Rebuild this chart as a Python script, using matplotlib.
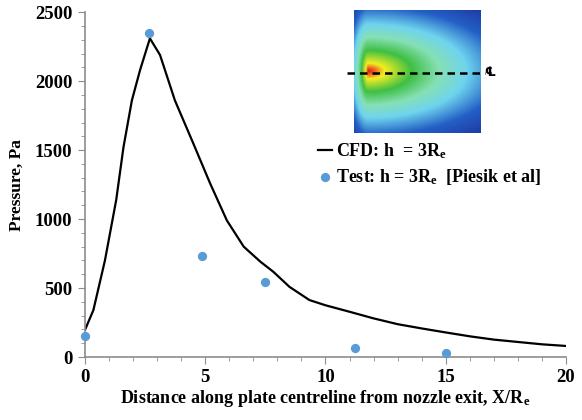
import numpy as np
import matplotlib
matplotlib.use("Agg")
import matplotlib.pyplot as plt
from matplotlib.colors import LinearSegmentedColormap
from matplotlib.lines import Line2D
from matplotlib.ticker import MultipleLocator

plt.rcParams['font.family'] = ['Liberation Serif', 'DejaVu Sans']
plt.rcParams['font.weight'] = 'bold'
plt.rcParams['mathtext.fontset'] = 'custom'
plt.rcParams['mathtext.rm'] = 'Liberation Serif:bold'
plt.rcParams['mathtext.it'] = 'Liberation Serif:bold'
plt.rcParams['mathtext.bf'] = 'Liberation Serif:bold'

# CFD curve
cfd_x = [0, 0.35, 0.83, 1.3, 1.6, 1.95, 2.29, 2.7, 3.12, 3.74, 4.5, 5.2, 5.9, 6.6, 7.3, 7.83, 8.5, 9.33, 10, 11, 12, 13, 14, 15, 16, 17, 18, 19, 20]
cfd_y = [196, 340, 700, 1140, 1520, 1860, 2080, 2310, 2190, 1860, 1550, 1260, 990, 800, 690, 618, 509, 413, 375, 328, 280, 238, 207, 178, 150, 126, 109, 92, 80]
# Test data
test_x = [0.0, 2.67, 4.86, 7.5, 11.24, 15.0]
test_y = [150, 2350, 732, 546, 68, 26]

fig = plt.figure(figsize=(5.82, 4.2), dpi=100)
ax = fig.add_axes([0.146, 0.15, 0.8265, 0.821])

line, = ax.plot(cfd_x, cfd_y, color='black', lw=1.6)
pts = ax.scatter(test_x, test_y, s=32, color='#5b9bd5', zorder=3, clip_on=False)

ax.set_xlim(0, 20)
ax.set_ylim(0, 2500)
ax.xaxis.set_major_locator(MultipleLocator(5))
ax.xaxis.set_minor_locator(MultipleLocator(1))
ax.yaxis.set_major_locator(MultipleLocator(500))
ax.yaxis.set_minor_locator(MultipleLocator(100))
for s in ['top', 'right']:
    ax.spines[s].set_visible(False)
for s in ['left', 'bottom']:
    ax.spines[s].set_color('#8c8c8c')
    ax.spines[s].set_linewidth(1.2)
ax.tick_params(which='major', length=5, color='#8c8c8c', labelsize=13.5)
ax.tick_params(axis='y', which='major', pad=4)
ax.tick_params(axis='x', which='major', pad=4)
ax.tick_params(which='minor', length=3, color='#8c8c8c')
for lab in ax.get_xticklabels() + ax.get_yticklabels():
    lab.set_fontweight('bold')

ax.set_xlabel('Distance along plate centreline from nozzle exit, X/R$_\\mathrm{e}$', fontsize=13, fontweight='bold', labelpad=1)
ax.set_ylabel('Pressure, Pa', fontsize=12.5, fontweight='bold', labelpad=7)

leg = ax.legend([line, pts], ['CFD: h  = 3R$_\\mathrm{e}$', 'Test: h = 3R$_\\mathrm{e}$  [Piesik et al]'],
                loc='upper left', bbox_to_anchor=(0.485, 0.625), frameon=False,
                prop={'size': 13, 'weight': 'bold'}, handlelength=0.75, handletextpad=0.25,
                labelspacing=0.3, borderaxespad=0, borderpad=0)

# Inset contour image (decorative)
iax = fig.add_axes([0.608, 0.683, 0.2165, 0.293])
gx, gy = np.meshgrid(np.linspace(0, 1, 240), np.linspace(-0.5, 0.5, 240))
dx = gx - 0.11
a = np.where(dx > 0, 0.82, 0.12)
r = np.sqrt((dx / a) ** 2 + (gy / 0.4) ** 2)
field = np.interp(r, [0, 0.06, 0.16, 0.42, 0.95, 1.3, 1.8], [1, 0.9, 0.7, 0.5, 0.3, 0.12, 0.0])
cmap = LinearSegmentedColormap.from_list('j', [(0, '#1c2c96'), (0.12, '#2360c6'), (0.3, '#6fd4ee'),
                                               (0.4, '#86e0b4'), (0.5, '#3fbf44'), (0.7, '#f2ee22'),
                                               (0.85, '#f08222'), (1.0, '#e01818')])
iax.imshow(field, cmap=cmap, aspect='auto', extent=[0, 1, -0.5, 0.5], origin='lower', vmin=0, vmax=1)
iax.set_xticks([])
iax.set_yticks([])
for s in iax.spines.values():
    s.set_visible(False)
fig.add_artist(Line2D([347 / 582, 485 / 582], [1 - 73 / 420, 1 - 73 / 420], color='black', lw=1.8, ls=(0, (3, 2))))
fig.text(490 / 582, 1 - 73 / 420, '\u2104', fontsize=9, va='center', ha='center', family=['DejaVu Sans'])

fig.savefig('out.png', dpi=100)
